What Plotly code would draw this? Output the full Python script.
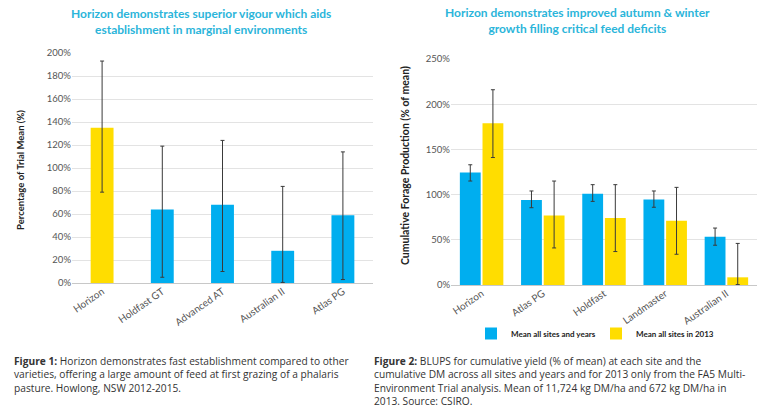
import plotly.graph_objects as go

# ---- Data: Figure 1 ----
cats1 = ["Horizon", "Holdfast GT", "Advanced AT", "Australian II", "Atlas PG"]
vals1 = [135, 64, 68, 28, 59]
err_hi1 = [193, 119, 124, 84, 114]
err_lo1 = [79, 5, 10, 0.5, 3]
colors1 = ["#FFDD00", "#00AEEF", "#00AEEF", "#00AEEF", "#00AEEF"]

# ---- Data: Figure 2 ----
cats2 = ["Horizon", "Atlas PG", "Holdfast", "Landmaster", "Australian II"]
all_years = [124.5, 94, 101, 94.5, 53.5]
all_hi = [133, 104, 111, 104, 63]
all_lo = [115, 85.5, 92.5, 86, 44]
y2013 = [179, 77, 74, 71, 8.5]
y2013_hi = [216, 115, 111, 108, 46]
y2013_lo = [141, 41, 37, 34, 0.5]
series_names = ["Mean all sites and years", "Mean all sites in 2013"]

BLUE = "#00AEEF"
YELLOW = "#FFDD00"
TITLE_C = "#2BB5DA"
W, H = 766, 411
FONT = "Lato"

def err(vals, hi, lo):
    return dict(type="data", symmetric=False,
                array=[h - v for h, v in zip(hi, vals)],
                arrayminus=[v - l for v, l in zip(vals, lo)],
                color="#3a3a3a", thickness=1, width=2)

fig = go.Figure()
fig.add_trace(go.Bar(x=cats1, y=vals1, marker_color=colors1, marker_line_width=0,
                     error_y=err(vals1, err_hi1, err_lo1), showlegend=False,
                     xaxis="x", yaxis="y", width=0.38))
fig.add_trace(go.Bar(x=cats2, y=all_years, name="<b>%s</b>" % series_names[0], marker_color=BLUE,
                     marker_line_width=0, error_y=err(all_years, all_hi, all_lo),
                     xaxis="x2", yaxis="y2", offsetgroup="a"))
fig.add_trace(go.Bar(x=cats2, y=y2013, name="<b>%s</b>" % series_names[1], marker_color=YELLOW,
                     marker_line_width=0, error_y=err(y2013, y2013_hi, y2013_lo),
                     xaxis="x2", yaxis="y2", offsetgroup="b"))

def px_x(p): return p / W
def px_y(p): return 1 - p / H

ytick_font = dict(family=FONT, size=9.5, color="#555555")
xtick_font = dict(family=FONT, size=10, color="#555555")
fig.update_layout(
    template="none",
    width=W, height=H, margin=dict(l=0, r=0, t=0, b=0, autoexpand=False),
    paper_bgcolor="white", plot_bgcolor="white",
    barmode="group", bargap=0.26, bargroupgap=0.08,
    font=dict(family=FONT, color="#333333"),
    xaxis=dict(domain=[px_x(72), px_x(373)], anchor="y", tickangle=-35, automargin=False,
               tickfont=xtick_font, showgrid=False, ticks="", showline=False, zeroline=False),
    yaxis=dict(domain=[px_y(283), px_y(53)], anchor="x", range=[0, 200], dtick=20,
               automargin=False, ticksuffix="%", tickfont=ytick_font, gridcolor="#E3E3E3",
               gridwidth=1, zeroline=True, zerolinecolor="#C8C8C8", zerolinewidth=1,
               ticks="", showline=False),
    xaxis2=dict(domain=[px_x(451), px_x(757)], anchor="y2", tickangle=-35, automargin=False,
                tickfont=xtick_font, showgrid=False, ticks="", showline=False, zeroline=False),
    yaxis2=dict(domain=[px_y(285), px_y(59)], anchor="x2", range=[0, 250], dtick=50,
                automargin=False, ticksuffix="%", tickfont=ytick_font, gridcolor="#E3E3E3",
                gridwidth=1, zeroline=True, zerolinecolor="#C8C8C8", zerolinewidth=1,
                ticks="", showline=False),
    legend=dict(orientation="h", x=px_x(471), y=px_y(319), xanchor="left", yanchor="top",
                font=dict(family=FONT, size=8, color="#222222"),
                itemwidth=30, entrywidth=80, bgcolor="rgba(0,0,0,0)",
                tracegroupgap=0, itemsizing="constant"),
)

ann = []
# titles
ann.append(dict(text="<b>Horizon demonstrates superior vigour which aids<br>establishment in marginal environments</b>",
                x=px_x(201), y=px_y(21), xref="paper", yref="paper", showarrow=False,
                xanchor="center", yanchor="middle",
                font=dict(family=FONT, size=12, color=TITLE_C), align="center"))
ann.append(dict(text="<b>Horizon demonstrates improved autumn &amp; winter<br>growth filling critical feed deficits</b>",
                x=px_x(577), y=px_y(20), xref="paper", yref="paper", showarrow=False,
                xanchor="center", yanchor="middle",
                font=dict(family=FONT, size=12, color=TITLE_C), align="center"))
# y axis titles
ann.append(dict(text="<b>Percentage of Trial Mean (%)</b>", x=px_x(21), y=px_y(170),
                xref="paper", yref="paper", showarrow=False, textangle=-90,
                xanchor="center", yanchor="middle",
                font=dict(family=FONT, size=9.5, color="#222222")))
ann.append(dict(text="<b>Cumulative Forage Production (% of mean)</b>", x=px_x(405), y=px_y(166),
                xref="paper", yref="paper", showarrow=False, textangle=-90,
                xanchor="center", yanchor="middle",
                font=dict(family=FONT, size=10.5, color="#222222")))
# captions
CAP = "Open Sans"
ann.append(dict(text="<b>Figure 1:</b> Horizon demonstrates fast establishment compared to other<br>"
                     "varieties, offering a large amount of feed at first grazing of a phalaris<br>"
                     "pasture. Howlong, NSW 2012-2015.",
                x=px_x(12), y=px_y(352), xref="paper", yref="paper", showarrow=False,
                xanchor="left", yanchor="top", align="left",
                font=dict(family=CAP, size=10.2, color="#333333")))
ann.append(dict(text="<b>Figure 2:</b> BLUPS for cumulative yield (% of mean) at each site and the<br>"
                     "cumulative DM across all sites and years and for 2013 only from the FA5 Multi-<br>"
                     "Environment Trial analysis. Mean of 11,724 kg DM/ha and 672 kg DM/ha in<br>"
                     "2013. Source: CSIRO.",
                x=px_x(372), y=px_y(352), xref="paper", yref="paper", showarrow=False,
                xanchor="left", yanchor="top", align="left",
                font=dict(family=CAP, size=10.2, color="#333333")))
fig.update_layout(annotations=ann)

fig.write_html("out.html")
